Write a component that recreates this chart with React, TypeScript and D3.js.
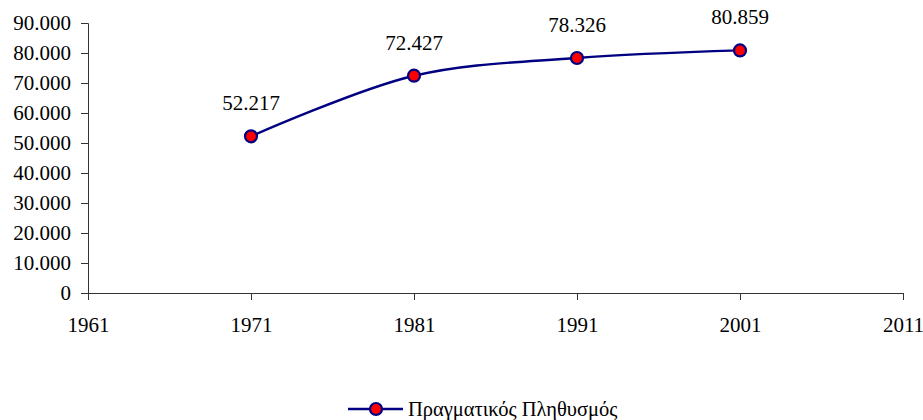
import React, { useEffect, useRef } from "react";
import * as d3 from "d3";

const years = [1971, 1981, 1991, 2001];
const population = [52217, 72427, 78326, 80859];
const xTicks = [1961, 1971, 1981, 1991, 2001, 2011];
const yTicks = [0, 10000, 20000, 30000, 40000, 50000, 60000, 70000, 80000, 90000];
const seriesName = "Πραγματικός Πληθυσμός";

const W = 923;
const H = 420;
const NAVY = "#000080";
const FONT = "Liberation Serif, Tinos, DejaVu Serif, serif";
const FS = 21;

// thousands with a dot, like the greek excel export
const fmt = (v: number) => (v === 0 ? "0" : d3.format(",")(v).replace(/,/g, "."));

export default function App() {
  const ref = useRef<SVGSVGElement>(null);

  useEffect(() => {
    const svg = d3.select(ref.current);
    svg.selectAll("*").remove();

    const x = d3.scaleLinear().domain([1961, 2011]).range([88, 903]);
    const y = d3.scaleLinear().domain([0, 90000]).range([293, 23]);

    // y axis
    const yAxis = svg.append("g")
      .attr("transform", "translate(88,0)")
      .call(d3.axisLeft(y).tickValues(yTicks).tickSize(7).tickPadding(10).tickFormat((d) => fmt(+d)));
    yAxis.attr("font-family", null).attr("font-size", null);
    yAxis.selectAll("text").style("font-size", FS + "px").style("font-family", FONT).attr("fill", "#000");
    yAxis.selectAll("line, path").attr("stroke", "#333");

    // x axis
    const xAxis = svg.append("g")
      .attr("transform", "translate(0,293)")
      .call(d3.axisBottom(x).tickValues(xTicks).tickSize(7).tickSizeOuter(7).tickPadding(17).tickFormat(d3.format("d")));
    xAxis.attr("font-family", null).attr("font-size", null);
    xAxis.selectAll("text").style("font-size", FS + "px").style("font-family", FONT).attr("fill", "#000");
    xAxis.selectAll("line, path").attr("stroke", "#333");

    const pts = years.map((yr, i) => [x(yr), y(population[i])] as [number, number]);

    const line = d3.line().curve(d3.curveCatmullRom.alpha(0.5));
    svg.append("path")
      .attr("d", line(pts))
      .attr("fill", "none")
      .attr("stroke", NAVY)
      .attr("stroke-width", 2.4);

    svg.selectAll(".pt")
      .data(pts)
      .enter()
      .append("circle")
      .attr("cx", (d) => d[0])
      .attr("cy", (d) => d[1])
      .attr("r", 6)
      .attr("fill", "#ff0000")
      .attr("stroke", NAVY)
      .attr("stroke-width", 2.2);

    svg.selectAll(".lbl")
      .data(population)
      .enter()
      .append("text")
      .attr("x", (d, i) => x(years[i]))
      .attr("y", (d) => y(d) - 26)
      .attr("text-anchor", "middle")
      .style("font-size", FS + "px")
      .style("font-family", FONT)
      .text((d) => fmt(d));

    // legend
    const lg = svg.append("g");
    lg.append("line")
      .attr("x1", 348).attr("x2", 403)
      .attr("y1", 409).attr("y2", 409)
      .attr("stroke", NAVY).attr("stroke-width", 2.4);
    lg.append("circle")
      .attr("cx", 376).attr("cy", 409).attr("r", 6)
      .attr("fill", "#ff0000").attr("stroke", NAVY).attr("stroke-width", 2.2);
    lg.append("text")
      .attr("x", 408).attr("y", 416)
      .style("font-size", "20.5px")
      .style("font-family", FONT)
      .text(seriesName);
  }, []);

  return (
    <svg ref={ref} width={W} height={H} style={{ position: "absolute", left: 0, top: 0, background: "#fff" }} />
  );
}
